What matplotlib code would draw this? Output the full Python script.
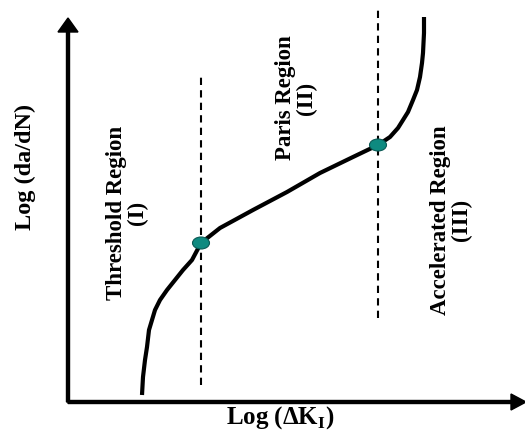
import matplotlib
matplotlib.use('Agg')
import matplotlib.pyplot as plt
from matplotlib.patches import Ellipse

plt.rcParams['font.family'] = ['Liberation Serif', 'DejaVu Serif']
plt.rcParams['mathtext.fontset'] = 'custom'
plt.rcParams['mathtext.rm'] = 'Liberation Serif:bold'
plt.rcParams['mathtext.bf'] = 'Liberation Serif:bold'

# schematic crack growth curve, log(dK) vs log(da/dN) (arbitrary units)
log_dk = [74, 75, 77, 79, 81, 84, 87, 92, 99, 107, 115, 124, 133, 152,
          185, 219, 252, 285, 310, 322, 330, 335, 340, 345, 349, 352, 354,
          355, 356, 356]
log_dadn = [7, 25, 42, 55, 72, 82, 92, 102, 112, 122, 132, 142, 159, 174,
            192, 210, 229, 245, 257, 265, 274, 282, 290, 302, 312, 325, 339,
            349, 369, 385]

# region boundaries (transition points)
trans_x = [133, 310]
trans_y = [159, 257]
bound_lo = [17, 84]
bound_hi = [327, 394]

region_labels = ['Threshold Region\n(I)', 'Paris Region\n(II)',
                 'Accelerated Region\n(III)']
label_x = [59, 228, 383]
label_y = [189, 304, 182]

fig = plt.figure(figsize=(5.25, 4.41), dpi=100)
ax = fig.add_axes([0, 0, 1, 1])
ax.set_xlim(-68, 457)
ax.set_ylim(-39, 402)
ax.axis('off')

# axes with arrows
ax.arrow(0, 0, 0, 384, width=3, head_width=20, head_length=14,
         length_includes_head=True, color='black')
ax.arrow(0, 0, 458, 0, width=3, head_width=16, head_length=15,
         length_includes_head=True, color='black')

ax.vlines(trans_x, bound_lo, bound_hi, colors='black', linestyles=(0, (3.5, 2.5)),
          linewidth=1.5)

ax.plot(log_dk, log_dadn, color='black', linewidth=3, solid_capstyle='butt',
        solid_joinstyle='round')

for x, y in zip(trans_x, trans_y):
    ax.add_patch(Ellipse((x, y), 17, 12, facecolor='#0e8a80',
                         edgecolor='#0b5a55', linewidth=0.8, zorder=5))

for txt, x, y in zip(region_labels, label_x, label_y):
    ax.text(x, y, txt, rotation=90, ha='center', va='center', fontsize=16.5,
            fontweight='bold', linespacing=1.0)

ax.text(-43, 235, 'Log (da/dN)', rotation=90, ha='center', va='center',
        fontsize=17.5, fontweight='bold')
ax.text(212, -16, r'Log ($\Delta$K$_{\mathrm{I}}$)', ha='center', va='center',
        fontsize=18, fontweight='bold')

fig.savefig('out.png', dpi=100)
